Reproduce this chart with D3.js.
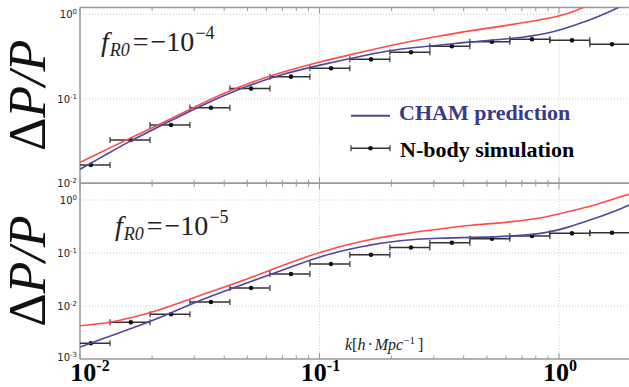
<!DOCTYPE html>
<html>
<head>
<meta charset="utf-8">
<script src="https://cdn.jsdelivr.net/npm/d3@7"></script>
<style>
body { margin: 0; background: #fff; }
svg { display: block; }
</style>
</head>
<body>
<svg width="629" height="387"></svg>
<script>
var kGrid = [0.0100, 0.01335, 0.01618, 0.02158, 0.0317, 0.04656, 0.0684, 0.1005, 0.1476, 0.2168, 0.3185, 0.4247, 0.624, 0.9166, 1.111, 1.346, 1.633, 1.959];

// fR0 = -1e-4 panel
var redTop  = [0.01772, 0.02624, 0.03436, 0.04966, 0.0868, 0.1417, 0.2050, 0.2748, 0.3532, 0.4574, 0.5552, 0.6394, 0.7471, 0.8969, 1.028, 1.302, 1.559, 1.888];
var chamTop = [0.01465, 0.02328, 0.03166, 0.04765, 0.08218, 0.1324, 0.1939, 0.2512, 0.3184, 0.3938, 0.4297, 0.4739, 0.5101, 0.5958, 0.7132, 0.8561, 1.0734, 1.39];
// fR0 = -1e-5 panel
var redBot  = [0.00425, 0.00484, 0.005936, 0.008334, 0.01613, 0.02836, 0.05612, 0.1058, 0.167, 0.2283, 0.2836, 0.3375, 0.3796, 0.4841, 0.6201, 0.7473, 1.0, 1.281];
var chamBot = [0.001684, 0.002716, 0.003683, 0.005936, 0.01298, 0.02436, 0.04574, 0.08777, 0.1327, 0.1759, 0.1919, 0.1978, 0.203, 0.2415, 0.3134, 0.4195, 0.5612, 0.8048];

// N-body bins
var binEdges = [0.00909, 0.01335, 0.0196, 0.02877, 0.04226, 0.06207, 0.0912, 0.1339, 0.1967, 0.2889, 0.4244, 0.6234, 0.9157, 1.345, 1.976];
var kSim   = [0.0111, 0.0163, 0.0240, 0.0352, 0.0518, 0.0760, 0.1117, 0.1641, 0.241, 0.357, 0.525, 0.771, 1.133, 1.664];
var simTop = [0.0165, 0.0325, 0.049, 0.0785, 0.132, 0.183, 0.230, 0.293, 0.355, 0.418, 0.474, 0.506, 0.492, 0.442];
var simBot = [0.00198, 0.00492, 0.00697, 0.0119, 0.0219, 0.0402, 0.062, 0.0929, 0.127, 0.156, 0.186, 0.209, 0.235, 0.242];

var xTickExps = [-2, -1, 0];
var yTickExpsTop = [0, -1, -2];
var yTickExpsBot = [0, -1, -2, -3];
var legendLabels = ['CHAM prediction', 'N-body simulation'];

var RED = '#ff4b4b', BLUE = '#4a4a9e', BAR = '#333';
var svg = d3.select('svg');
var x = d3.scaleLog().domain([0.01, 1.96]).range([80, 629]);

var panels = [
  { id: 'top', y: d3.scaleLog().domain([0.01, 1.204]).range([183.3, 7.5]), red: redTop, cham: chamTop, sim: simTop, yExps: yTickExpsTop, exp: '\u22124', ax: 101, ay: 51 },
  { id: 'bot', y: d3.scaleLog().domain([0.001, 2.07]).range([359, 183.3]), red: redBot, cham: chamBot, sim: simBot, yExps: yTickExpsBot, exp: '\u22125', ax: 115, ay: 235 }
];

var xMinor = x.ticks().filter(function (t) { return t >= 0.01 && t <= 1.96; });

panels.forEach(function (p) {
  var y0 = p.y.range()[0], y1 = p.y.range()[1];
  var g = svg.append('g');
  svg.append('clipPath').attr('id', 'clip-' + p.id)
    .append('rect').attr('x', 80).attr('y', y1).attr('width', 549).attr('height', y0 - y1);

  // dotted grid at decades
  g.selectAll('.hg').data(p.yExps.map(function (e) { return Math.pow(10, e); }).filter(function (v) { return Math.abs(p.y(v) - y0) > 1; }))
    .enter().append('line')
    .attr('x1', 80).attr('x2', 629).attr('y1', function (d) { return p.y(d); }).attr('y2', function (d) { return p.y(d); })
    .attr('stroke', '#c8c8c8').attr('stroke-width', 1).attr('stroke-dasharray', '1,2');
  g.selectAll('.vg').data([0.1, 1]).enter().append('line')
    .attr('x1', function (d) { return x(d); }).attr('x2', function (d) { return x(d); }).attr('y1', y1).attr('y2', y0)
    .attr('stroke', '#c8c8c8').attr('stroke-width', 1).attr('stroke-dasharray', '1,2');

  // spines
  g.append('line').attr('x1', 80).attr('x2', 629).attr('y1', y0).attr('y2', y0).attr('stroke', '#999').attr('stroke-width', 1.5);
  g.append('line').attr('x1', 80).attr('x2', 629).attr('y1', y1).attr('y2', y1).attr('stroke', '#999').attr('stroke-width', 1.5);
  g.append('line').attr('x1', 80).attr('x2', 80).attr('y1', y1).attr('y2', y0).attr('stroke', '#999').attr('stroke-width', 1.5);

  // minor/major x ticks pointing inward
  xMinor.forEach(function (t) {
    var major = Math.abs(Math.log10(t) - Math.round(Math.log10(t))) < 1e-6;
    var len = major ? 6 : 3.5;
    g.append('line').attr('x1', x(t)).attr('x2', x(t)).attr('y1', y0).attr('y2', y0 - len).attr('stroke', '#999').attr('stroke-width', 1);
    g.append('line').attr('x1', x(t)).attr('x2', x(t)).attr('y1', y1).attr('y2', y1 + len).attr('stroke', '#999').attr('stroke-width', 1);
  });

  // y tick labels
  p.yExps.forEach(function (e) {
    var t = g.append('text').attr('x', 77).attr('y', p.y(Math.pow(10, e)) + (e === -3 ? 2 : 4))
      .attr('text-anchor', 'end').attr('font-family', 'DejaVu Sans, sans-serif').attr('font-size', 10).attr('fill', '#222');
    t.append('tspan').text('10');
    t.append('tspan').attr('font-size', 7).attr('dy', -4).text(e === 0 ? '0' : '-' + (-e));
  });

  var plot = g.append('g').attr('clip-path', 'url(#clip-' + p.id + ')');
  var line = d3.line().x(function (d) { return x(d[0]); }).y(function (d) { return p.y(d[1]); }).curve(d3.curveBasis);

  // error bars
  var bars = plot.selectAll('.bar').data(kSim.map(function (k, i) { return { k: k, v: p.sim[i], lo: binEdges[i], hi: binEdges[i + 1] }; }))
    .enter().append('g');
  bars.append('line').attr('x1', function (d) { return x(d.lo); }).attr('x2', function (d) { return x(d.hi); })
    .attr('y1', function (d) { return p.y(d.v); }).attr('y2', function (d) { return p.y(d.v); })
    .attr('stroke', BAR).attr('stroke-width', 1.5);
  ['lo', 'hi'].forEach(function (side) {
    bars.append('line').attr('x1', function (d) { return x(d[side]); }).attr('x2', function (d) { return x(d[side]); })
      .attr('y1', function (d) { return p.y(d.v) - 3; }).attr('y2', function (d) { return p.y(d.v) + 3; })
      .attr('stroke', BAR).attr('stroke-width', 1.2);
  });

  plot.append('path').datum(kGrid.map(function (k, i) { return [k, p.red[i]]; }))
    .attr('d', line).attr('fill', 'none').attr('stroke', RED).attr('stroke-width', 1.6);
  plot.append('path').datum(kGrid.map(function (k, i) { return [k, p.cham[i]]; }))
    .attr('d', line).attr('fill', 'none').attr('stroke', BLUE).attr('stroke-width', 1.6);

  bars.append('circle').attr('cx', function (d) { return x(d.k); }).attr('cy', function (d) { return p.y(d.v); })
    .attr('r', 2.3).attr('fill', '#111');

  // fR0 annotation
  var a = g.append('text').attr('x', p.ax).attr('y', p.ay).attr('font-family', 'Liberation Serif, serif').attr('fill', '#222').attr('font-size', 28);
  a.append('tspan').attr('font-style', 'italic').text('f');
  a.append('tspan').attr('font-style', 'italic').attr('font-size', 18).attr('dy', 5).attr('dx', 1).text('R0');
  a.append('tspan').attr('dy', -5).attr('dx', 3).text('=');
  a.append('tspan').attr('dx', 2).text('\u221210');
  a.append('tspan').attr('font-size', 18).attr('dy', -12).attr('dx', 1).text(p.exp);

  // y label
  var yl = svg.append('text').attr('transform', 'translate(45,' + ((y0 + y1) / 2) + ') rotate(-90)')
    .attr('text-anchor', 'middle').attr('font-family', 'Liberation Serif, serif').attr('font-size', 52).attr('fill', '#111');
  yl.append('tspan').text('\u0394');
  yl.append('tspan').attr('font-style', 'italic').text('P/P');
});

// x tick labels (bold serif)
xTickExps.forEach(function (e, i) {
  var t = svg.append('text').attr('x', x(Math.pow(10, e)) + (i === 0 ? 10 : 1)).attr('y', 381)
    .attr('text-anchor', 'middle').attr('font-family', 'Liberation Serif, serif').attr('font-weight', 'bold')
    .attr('font-size', 26).attr('fill', '#000');
  t.append('tspan').text('10');
  t.append('tspan').attr('font-size', 16).attr('dy', -10).text(e === 0 ? '0' : '-' + (-e));
});

// x axis label
var xl = svg.append('text').attr('x', 345).attr('y', 350).attr('font-family', 'Liberation Serif, serif').attr('font-size', 16).attr('fill', '#222');
xl.append('tspan').attr('font-style', 'italic').text('k');
xl.append('tspan').text('[');
xl.append('tspan').attr('font-style', 'italic').text('h');
xl.append('tspan').attr('dx', 2).text('\u00b7');
xl.append('tspan').attr('dx', 2).attr('font-style', 'italic').text('Mpc');
xl.append('tspan').attr('font-size', 11).attr('dy', -6).text('\u22121');
xl.append('tspan').attr('dy', 6).attr('dx', 3).text(']');

// legend
var lg = svg.append('g');
lg.append('line').attr('x1', 351).attr('x2', 390).attr('y1', 115.7).attr('y2', 115.7).attr('stroke', BLUE).attr('stroke-width', 2);
lg.append('text').attr('x', 399).attr('y', 120).attr('font-family', 'Liberation Serif, serif').attr('font-weight', 'bold')
  .attr('font-size', 22).attr('fill', '#3a3a8a').text(legendLabels[0]);
lg.append('line').attr('x1', 351).attr('x2', 390).attr('y1', 148.3).attr('y2', 148.3).attr('stroke', BAR).attr('stroke-width', 1.5);
[351, 390].forEach(function (cx) {
  lg.append('line').attr('x1', cx).attr('x2', cx).attr('y1', 145.3).attr('y2', 151.3).attr('stroke', BAR).attr('stroke-width', 1.2);
});
lg.append('circle').attr('cx', 370.5).attr('cy', 148.3).attr('r', 2.3).attr('fill', '#111');
lg.append('text').attr('x', 400).attr('y', 156.7).attr('font-family', 'Liberation Serif, serif').attr('font-weight', 'bold')
  .attr('font-size', 22).attr('fill', '#000').text(legendLabels[1]);
</script>
</body>
</html>
